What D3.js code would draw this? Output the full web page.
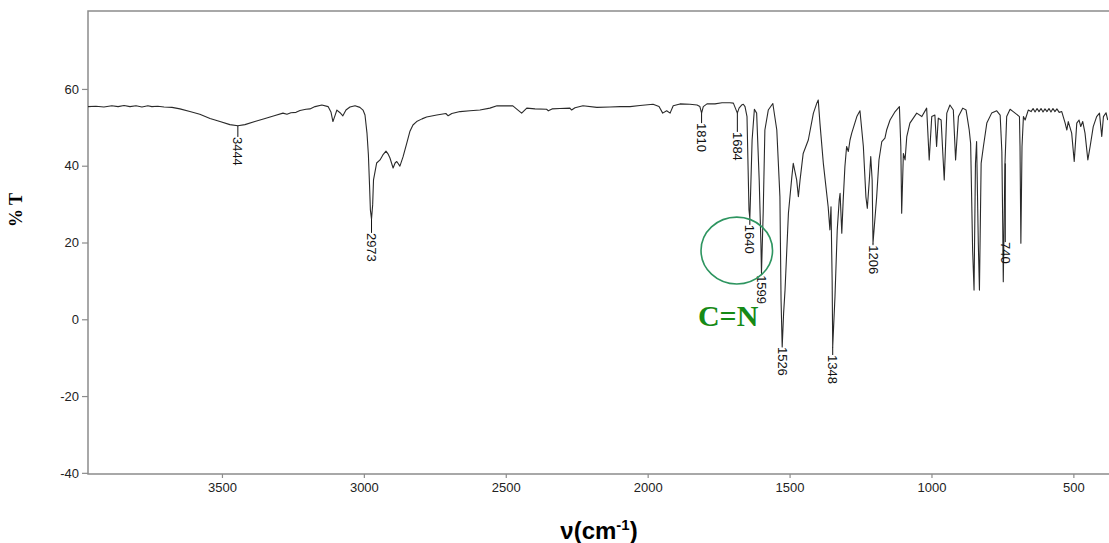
<!DOCTYPE html>
<html>
<head>
<meta charset="utf-8">
<script src="https://cdn.jsdelivr.net/npm/d3@7"></script>
<style>
  html, body { margin: 0; padding: 0; background: #fff; }
  svg { display: block; }
</style>
</head>
<body>
<svg id="chart" width="1109" height="543"></svg>
<script>
// ---- data ----
const wavenumbers = [
  3972,3944,3916,3888,3866,3845,3824,3803,3782,3761,3747,3726,3704,3676,3648,3613,3578,3542,3507,3472,
  3444,3419,3384,3348,3313,3285,3271,3257,3239,3225,3204,3190,3172,3148,3126,3116,3109,3102,3095,3084,
  3074,3063,3049,3031,3014,3003,2996,2989,2984,2980,2977,2973,2969,2966,2955,2943,2933,2922,2915,2908,
  2897,2890,2884,2873,2862,2849,2838,2827,2814,2795,2779,2743,2711,2703,2690,2661,2626,2591,2556,2531,
  2475,2457,2444,2426,2397,2356,2350,2337,2309,2274,2268,2256,2228,2179,2133,2097,2062,2027,1981,1960,
  1947,1933,1921,1910,1886,1851,1826,1816,1810,1804,1791,1763,1738,1710,1698,1684,1678,1669,1663,1657,
  1650,1646,1643,1640,1638,1632,1624,1616,1607,1601,1599,1593,1587,1575,1559,1545,1534,1530,1526,1521,
  1516,1504,1492,1487,1475,1469,1463,1452,1434,1416,1404,1399,1393,1381,1364,1358,1354,1350,1348,1340,
  1332,1325,1322,1316,1311,1305,1299,1293,1287,1281,1263,1252,1240,1231,1226,1219,1214,1209,1206,1193,
  1185,1175,1164,1158,1146,1128,1113,1108,1105,1099,1093,1087,1076,1052,1034,1017,1008,999,988,982,
  976,966,960,955,946,935,923,915,905,890,878,867,862,855,850,845,841,835,831,825,
  817,805,788,770,758,752,749,747,741,735,723,712,690,688,685,681,676,670,659,649,
  642,635,628,621,614,607,600,593,586,579,572,565,558,550,541,529,523,518,506,497,
  488,480,474,467,459,449,441,430,418,408,400,394,385,379
];
const transmittance = [
  55.4,55.5,55.3,55.6,55.4,55.7,55.4,55.6,55.3,55.6,55.4,55.5,55.3,55.2,54.8,54.1,53.4,52.3,51.5,50.7,
  50.4,50.7,51.5,52.3,53.1,53.7,53.4,53.8,53.9,54.4,54.7,54.8,55.4,55.8,55.4,54.0,51.5,53.0,54.5,53.8,
  53.0,54.5,55.3,55.6,55.2,54.5,53.2,48.5,42.8,35.0,28.5,26.1,29.8,36.3,40.7,41.5,42.8,43.8,43.1,42.0,
  39.4,40.7,41.1,39.9,42.3,45.8,48.9,50.6,51.5,52.2,52.7,53.2,53.6,53.0,53.6,54.1,54.3,54.5,55.0,55.6,
  55.6,54.5,53.7,55.0,54.8,54.7,54.3,54.8,54.9,55.0,54.5,55.1,55.6,55.2,55.3,55.4,55.4,55.7,56.0,55.4,
  53.7,54.3,53.7,55.6,56.1,56.0,55.8,55.4,53.7,55.4,56.1,56.1,56.4,56.4,56.3,53.7,55.0,55.8,56.0,55.4,
  52.8,38.9,28.5,26.3,31.1,46.7,54.7,53.7,36.3,19.8,12.0,27.6,49.3,54.5,56.2,49.3,31.9,5.0,-7.2,1.6,
  7.6,27.7,37.1,40.6,36.3,31.9,36.3,43.2,46.7,53.7,56.3,57.1,51.1,40.6,29.3,23.3,29.3,10.2,-7.2,5.9,
  23.3,31.1,32.8,22.4,31.1,39.8,45.0,43.7,46.7,48.5,52.8,54.3,45.0,31.9,28.9,36.3,42.4,36.3,19.8,32.0,
  41.5,46.3,47.2,49.3,51.9,54.1,55.4,45.0,27.6,43.2,41.5,47.6,51.1,53.7,52.8,55.0,41.5,52.8,53.2,45.0,
  52.4,51.9,43.2,36.3,53.7,55.8,54.5,41.5,52.8,55.0,54.5,49.3,45.8,18.0,7.6,40.6,46.3,19.8,7.6,40.6,
  45.0,51.1,53.7,54.3,53.2,43.7,25.0,9.8,40.6,52.8,54.7,54.1,52.8,45.0,19.8,45.0,52.8,51.9,54.5,54.1,
  54.9,54.0,54.9,54.1,54.9,54.0,54.8,54.1,54.9,54.0,54.9,54.1,54.8,53.9,54.1,51.1,49.3,51.5,48.5,41.1,
  51.1,51.9,50.2,51.5,48.5,41.5,45.0,50.2,52.8,53.7,47.6,52.8,53.8,51.9
];
const xTickValues = [3500, 3000, 2500, 2000, 1500, 1000, 500];
const yTickValues = [-40, -20, 0, 20, 40, 60];
const xDomain = [3972, 378];
const yDomain = [-40.3, 80.3];
const peakLabels = [3444, 2973, 1810, 1684, 1640, 1599, 1526, 1348, 1206, 740];
const peakLabelTops = [47.5, 22.5, 51.1, 48.8, 24.6, 11.5, -7.2, -9.3, 19.3, 20.1];
const xAxisTitle = "ν(cm";
const xAxisTitleSup = "-1";
const yAxisTitle = "% T";
const annotationText = "C=N";
const annotationTextAt = [1823, -1.8];          // wavenumber, %T
const annotationEllipse = [1686, 17.9, 126, 8.7]; // centre wavenumber, centre %T, half-width (cm-1), half-height (%T)

// ---- layout ----
const svg = d3.select("#chart");
const W = 1109, H = 543;
const m = { left: 88, top: 11, right: 1, bottom: 69 };
const x = d3.scaleLinear().domain(xDomain).range([m.left, W - m.right]);
const y = d3.scaleLinear().domain(yDomain).range([H - m.bottom, m.top]);

const axisColor = "#8c8c8c";
const tickTextColor = "#222";

svg.append("defs").append("clipPath").attr("id", "plotclip")
  .append("rect").attr("x", m.left).attr("y", m.top)
  .attr("width", W - m.right - m.left).attr("height", H - m.bottom - m.top);

// axes
const gx = svg.append("g").attr("transform", `translate(0,${y.range()[0]})`)
  .call(d3.axisBottom(x).tickValues(xTickValues).tickSize(4).tickPadding(5).tickFormat(d => String(d)));
const gy = svg.append("g").attr("transform", `translate(${m.left},0)`)
  .call(d3.axisLeft(y).tickValues(yTickValues).tickSize(6).tickPadding(3).tickFormat(d => String(d)));
[gx, gy].forEach(g => {
  g.select(".domain").remove();
  g.selectAll(".tick line").attr("stroke", axisColor).attr("stroke-width", 1.2);
  g.selectAll(".tick text").attr("fill", tickTextColor)
    .style("font-family", "'Liberation Sans', Arial, sans-serif").style("font-size", "13px");
});

// frame: left, top, bottom
svg.append("path")
  .attr("d", `M${W},${m.top}H${m.left}V${y.range()[0]}H${W}`)
  .attr("fill", "none").attr("stroke", axisColor).attr("stroke-width", 1.5);

// spectrum
const pts = wavenumbers.map((w, i) => [w, transmittance[i]]);
const line = d3.line().x(d => x(d[0])).y(d => y(d[1]));
svg.append("path").datum(pts)
  .attr("clip-path", "url(#plotclip)")
  .attr("d", line).attr("fill", "none").attr("stroke", "#2a2a2a").attr("stroke-width", 1.1)
  .attr("stroke-linejoin", "round");

// peak labels
const bis = d3.bisector(d => -d[0]).center;
const gl = svg.append("g");
peakLabels.forEach((p, i) => {
  const idx = bis(pts, -p);
  const peakT = pts[idx][1];
  const top = peakLabelTops[i];
  const px = x(p);
  if (top < peakT - 0.3) {
    gl.append("line").attr("x1", px).attr("x2", px)
      .attr("y1", y(peakT)).attr("y2", y(top))
      .attr("stroke", "#111").attr("stroke-width", 1);
  }
  gl.append("text")
    .attr("transform", `translate(${px},${y(top)}) rotate(90)`)
    .attr("dominant-baseline", "central")
    .attr("fill", "#111")
    .style("font-family", "'Liberation Sans', Arial, sans-serif").style("font-size", "13px")
    .text(p);
});

// annotation
svg.append("ellipse")
  .attr("cx", x(annotationEllipse[0])).attr("cy", y(annotationEllipse[1]))
  .attr("rx", Math.abs(x(annotationEllipse[0] + annotationEllipse[2]) - x(annotationEllipse[0])))
  .attr("ry", Math.abs(y(annotationEllipse[1] + annotationEllipse[3]) - y(annotationEllipse[1])))
  .attr("fill", "none").attr("stroke", "#2e9560").attr("stroke-width", 1.6);
svg.append("text")
  .attr("x", x(annotationTextAt[0])).attr("y", y(annotationTextAt[1]))
  .attr("fill", "#168a16")
  .style("font-family", "'Liberation Serif', 'Times New Roman', serif")
  .style("font-size", "30px").style("font-weight", "bold")
  .text(annotationText);

// axis titles
const xt = svg.append("text")
  .attr("x", 599).attr("y", 539).attr("text-anchor", "middle")
  .attr("fill", "#000")
  .style("font-family", "'Liberation Sans', Arial, sans-serif")
  .style("font-size", "24px").style("font-weight", "bold");
xt.append("tspan").text(xAxisTitle);
xt.append("tspan").attr("dy", -9).style("font-size", "15px").text(xAxisTitleSup);
xt.append("tspan").attr("dy", 9).text(")");

svg.append("text")
  .attr("transform", "translate(22,210) rotate(-90)")
  .attr("text-anchor", "middle")
  .attr("fill", "#000")
  .style("font-family", "'Liberation Serif', 'Times New Roman', serif")
  .style("font-size", "18px").style("font-weight", "bold")
  .text(yAxisTitle);
</script>
</body>
</html>
